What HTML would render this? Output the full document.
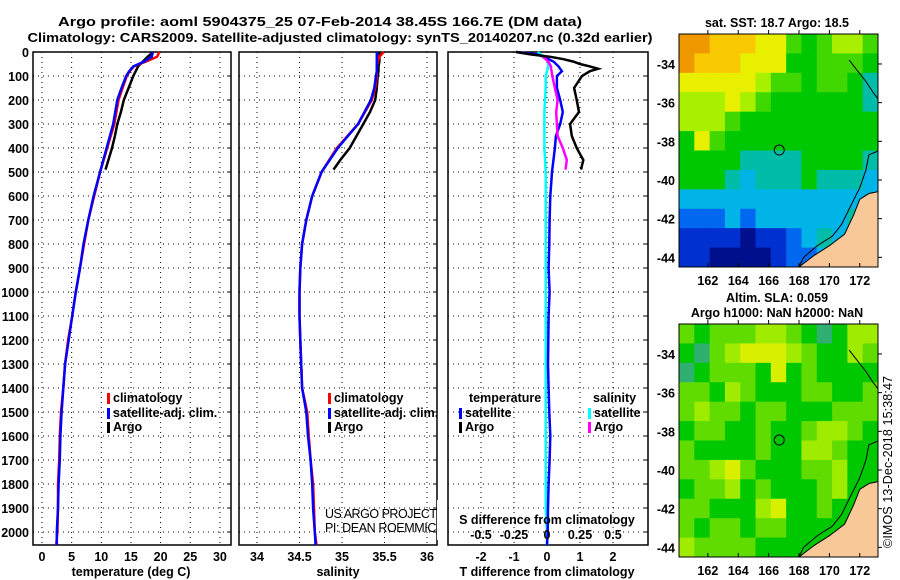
<!DOCTYPE html>
<html><head><meta charset="utf-8"><style>
html,body{margin:0;padding:0;background:#fff;}
svg{display:block;font-family:"Liberation Sans",sans-serif;}
.b{font-weight:bold;font-size:13px;}
.t{font-weight:bold;font-size:12.5px;}
</style></head><body>
<svg id="fig" width="900" height="580" viewBox="0 0 900 580" xmlns="http://www.w3.org/2000/svg">
<text x="320" y="26" class="b" text-anchor="middle" font-size="15" textLength="524" lengthAdjust="spacingAndGlyphs">Argo profile: aoml 5904375_25 07-Feb-2014 38.45S 166.7E (DM data)</text>
<text x="340" y="42" class="b" text-anchor="middle" font-size="15" textLength="625" lengthAdjust="spacingAndGlyphs">Climatology: CARS2009. Satellite-adjusted climatology: synTS_20140207.nc (0.32d earlier)</text>
<g id="g1"></g>
<g id="g2"></g>
<g id="g3"></g>
<g id="m1"></g>
<g id="m2"></g>
<text x="325" y="518" font-size="12.5" textLength="112">US ARGO PROJECT</text>
<text x="325" y="532" font-size="12.5" textLength="120">PI: DEAN ROEMMICH</text>
<rect x="437" y="500" width="10" height="40" fill="#fff"/>
<text transform="translate(892,548) rotate(-90)" font-size="12.5" textLength="172">©IMOS 13-Dec-2018 15:38:47</text>
</svg>
<script>
// ---- profile data ----
const depths=[0,20,40,60,80,100,150,200,300,400,500,600,700,800,900,1000,1100,1200,1300,1400,1500,1600,1700,1800,1900,2000,2054];
const tempClim=[19.8,19.4,17.5,15.5,14.8,14.3,13.6,12.9,12.2,11.0,9.8,8.8,7.8,7.1,6.4,5.7,5.1,4.4,3.9,3.6,3.2,3.0,2.9,2.7,2.7,2.6,2.4];
const tempSat=[18.7,18.5,17.2,15.4,14.7,14.2,13.4,12.7,12.0,10.9,9.8,8.7,7.8,7.0,6.4,5.7,5.1,4.5,3.9,3.6,3.3,3.1,3.0,2.8,2.7,2.5,2.5];
const salClim=[35.49,35.44,35.42,35.41,35.41,35.41,35.39,35.35,35.19,34.94,34.76,34.65,34.58,34.53,34.51,34.50,34.50,34.51,34.52,34.53,34.59,34.61,34.63,34.66,34.67,34.68,34.70];
const salSat=[35.41,35.41,35.41,35.41,35.41,35.40,35.38,35.34,35.19,34.95,34.76,34.65,34.58,34.53,34.51,34.50,34.50,34.51,34.52,34.53,34.58,34.60,34.63,34.65,34.66,34.68,34.69];
const argoDepths=[0,10,20,40,60,80,100,150,200,250,300,350,400,450,490];
const argoTemp=[18.5,18.3,17.8,17.0,16.2,15.8,15.4,14.6,13.8,13.3,12.7,12.3,11.8,11.2,10.7];
const argoSal=[35.44,35.44,35.44,35.44,35.43,35.43,35.42,35.41,35.39,35.33,35.25,35.17,35.09,34.98,34.90];
const diffDepths=[0,10,20,30,40,50,60,70,80,100,150,200,250,300,350,400,450,490];
const argoTdiff=[-0.94,-0.5,0.1,0.5,0.8,1.0,1.3,1.55,1.3,1.06,0.82,0.9,0.97,0.7,0.75,0.9,1.1,1.03];
const argoSdiffDepths=[20,30,40,50,60,70,80,100,150,200,250,300,350,400,450,490];
const argoSdiff=[-0.03,-0.01,0.01,0.02,0.03,0.03,0.035,0.04,0.06,0.08,0.07,0.075,0.08,0.12,0.15,0.14];
const satDepths=[0,10,20,40,60,80,100,150,200,250,300,350,400,500,600,700,800,900,1000,1100,1200,1300,1400,1500,1600,1700,1800,1900,2000,2054];
const satTdiff=[-0.94,-0.3,-0.1,0.2,0.35,0.45,0.3,0.3,0.4,0.48,0.4,0.27,0.24,0.15,0.1,0.08,0.07,0.05,0.08,0.05,0.04,0.03,0.05,0.07,0.1,0.08,0.05,0.03,0.02,0.0];
const satSdiff=[-0.07,-0.05,-0.01,0.01,0.01,0.0,-0.01,-0.01,-0.015,-0.02,-0.02,-0.02,-0.02,-0.01,-0.01,-0.01,-0.01,-0.01,-0.01,-0.01,-0.01,-0.01,-0.01,-0.01,-0.01,-0.01,-0.01,-0.01,0,0];
const depthTicks=[0,100,200,300,400,500,600,700,800,900,1000,1100,1200,1300,1400,1500,1600,1700,1800,1900,2000];
const tempTicks=[0,5,10,15,20,25,30];
const salTicks=[34,34.5,35,35.5,36];
const salTickLabels=["34","34.5","35","35.5","36"];
const tdiffTicks=[-2,-1,0,1,2];
const sdiffTicks=[-0.5,-0.25,0,0.25,0.5];
const sdiffTickLabels=["-0.5","-0.25","0","0.25","0.5"];
// ---- map data (colour class per 1-degree cell, rows north->south) ----
const sstGrid=[
[10,10,9,9,9,8,8,6,5,6,7,7,6],
[10,9,9,9,8,8,8,5,5,6,6,6,5],
[8,8,8,8,8,7,6,6,5,6,6,5,4],
[7,7,7,8,7,6,5,5,5,5,5,5,4],
[7,7,7,6,5,5,5,5,5,5,5,5,5],
[5,8,6,5,5,5,5,5,5,5,5,5,5],
[5,5,5,5,4,4,4,4,5,5,5,5,4],
[5,5,5,4,3,4,4,4,5,4,4,4,3],
[3,3,3,3,3,3,3,3,3,3,3,3,3],
[2,2,2,3,2,3,3,3,3,3,3,4,2],
[1,1,1,1,0,1,1,2,3,4,3,3,2],
[1,1,0,0,0,0,1,2,2,3,3,3,1]];
const slaGrid=[
[6,5,6,6,6,7,7,6,5,4,5,7,7],
[5,4,6,7,8,8,8,7,6,5,5,7,6],
[4,5,6,6,6,5,8,5,6,5,5,5,5],
[6,6,5,7,6,5,5,5,6,6,5,5,6],
[6,7,6,6,5,6,6,5,5,5,6,6,6],
[5,6,6,5,5,6,5,5,6,7,7,6,5],
[6,5,5,5,5,6,5,5,7,7,6,5,5],
[6,6,7,8,6,5,5,5,6,6,7,5,5],
[5,6,6,7,5,6,5,5,5,6,7,5,5],
[6,6,5,5,5,7,8,5,5,6,5,5,5],
[6,5,6,6,5,6,6,5,5,5,5,5,5],
[7,6,6,6,6,5,5,5,5,5,5,5,5]];
const lonTicks=[162,164,166,168,170,172];
const latTicks=[-34,-36,-38,-40,-42,-44];
const floatLon=166.7, floatLat=-38.45;
const landPoly=[[168,-44.5],[169,-43.9],[170,-43.4],[171,-42.8],[171.6,-41.8],[172,-41],[172.6,-40.7],[173.2,-40.6],[173.2,-44.5]];
const coast1=[[171.3,-33.8],[171.8,-34.3],[172.4,-34.9],[172.9,-35.5],[173.2,-35.8]];
const coast2=[[173.2,-38.5],[172.6,-38.7],[172.4,-39.5],[172,-40.4],[171.3,-41.5],[170.8,-42.3],[170.2,-42.9],[169.2,-43.4],[168.3,-44],[168,-44.5]];

const NS="http://www.w3.org/2000/svg";
function mk(parent,tag,attrs){const e=document.createElementNS(NS,tag);for(const k in attrs)e.setAttribute(k,attrs[k]);parent.appendChild(e);return e;}
const Y0=52, YB=545;
const yD=d=>Y0+d*0.24;

function panel(g,x0,x1,xs,ticks,labels,name){
  for(const t of ticks){const x=xs(t);
    const l=mk(g,'line',{x1:x,x2:x,y1:Y0,y2:YB,stroke:'#000','stroke-width':1,'stroke-dasharray':'1,4'});
    }
  for(const d of depthTicks){const y=yD(d);
    const l=mk(g,'line',{x1:x0,x2:x1,y1:y,y2:y,stroke:'#000','stroke-width':1,'stroke-dasharray':'1,4'});
    
    mk(g,'line',{x1:x1-4,x2:x1,y1:y,y2:y,stroke:'#000'});}
  const r=mk(g,'rect',{x:x0,y:Y0,width:x1-x0,height:YB-Y0,fill:'none',stroke:'#000','stroke-width':1.5});
  
  if(labels){ticks.forEach((t,i)=>{const tx=mk(g,'text',{x:xs(t),y:561,'text-anchor':'middle','class':'t'});tx.textContent=labels[i];
    });}
}
function line(g,xs,vals,ds,color,name){
  const pts=vals.map((v,i)=>xs(v).toFixed(1)+','+yD(ds[i]).toFixed(1)).join(' ');
  const p=mk(g,'polyline',{points:pts,fill:'none',stroke:color,'stroke-width':2.5,'stroke-linejoin':'miter'});
  }
function legend(g,x,y,color,label,name){
  mk(g,'rect',{x:x,y:y-9,width:3,height:11,fill:color});
  const t=mk(g,'text',{x:x+6,y:y,'class':'t'});t.textContent=label;
  }

// Panel 1
const g1=document.getElementById('g1');
const xT=v=>42+v*5.93;
panel(g1,33,231,xT,tempTicks,tempTicks.map(String),'temperature');
for(const d of depthTicks){const t=mk(g1,'text',{x:29,y:yD(d)+5,'text-anchor':'end','class':'t'});t.textContent=d;
  }
line(g1,xT,argoTemp,argoDepths,'#000','argo-temperature-line');
line(g1,xT,tempClim,depths,'#f00','climatology-temperature-line');
line(g1,xT,tempSat,depths,'#00f','satellite-temperature-line');
legend(g1,107,402,'#f00','climatology','legend-climatology');
legend(g1,107,417,'#00f','satellite-adj. clim.','legend-satellite');
legend(g1,107,431,'#000','Argo','legend-argo');
let t=mk(g1,'text',{x:131,y:576,'text-anchor':'middle','class':'t'});t.textContent='temperature (deg C)';


// Panel 2
const g2=document.getElementById('g2');
const xS=v=>342+(v-35)*85;
panel(g2,239,437,xS,salTicks,salTickLabels,'salinity');
line(g2,xS,argoSal,argoDepths,'#000','argo-salinity-line');
line(g2,xS,salClim,depths,'#f00','climatology-salinity-line');
line(g2,xS,salSat,depths,'#00f','satellite-salinity-line');
legend(g2,328,402,'#f00','climatology','legend-climatology-sal');
legend(g2,328,417,'#00f','satellite-adj. clim.','legend-satellite-sal');
legend(g2,328,431,'#000','Argo','legend-argo-sal');
t=mk(g2,'text',{x:338,y:576,'text-anchor':'middle','class':'t'});t.textContent='salinity';


// Panel 3
const g3=document.getElementById('g3');
const xTd=v=>547+v*33;
const xSd=v=>547+v*132;
panel(g3,448,648,xTd,tdiffTicks,tdiffTicks.map(String),'difference');
line(g3,xSd,satSdiff,satDepths,'#0ff','satellite-salinity-diff-line');
line(g3,xTd,satTdiff,satDepths,'#00f','satellite-temperature-diff-line');
line(g3,xSd,argoSdiff,argoSdiffDepths,'#f0f','argo-salinity-diff-line');
line(g3,xTd,argoTdiff,diffDepths,'#000','argo-temperature-diff-line');
t=mk(g3,'text',{x:469,y:402,'class':'t'});t.textContent='temperature';

t=mk(g3,'text',{x:593,y:402,'class':'t'});t.textContent='salinity';

legend(g3,459,417,'#00f','satellite','legend-t-satellite');
legend(g3,459,431,'#000','Argo','legend-t-argo');
legend(g3,588,417,'#0ff','satellite','legend-s-satellite');
legend(g3,588,431,'#f0f','Argo','legend-s-argo');
t=mk(g3,'text',{x:547,y:524,'text-anchor':'middle','class':'t'});t.textContent='S difference from climatology';

sdiffTicks.forEach((v,i)=>{const tx=mk(g3,'text',{x:xSd(v),y:539,'text-anchor':'middle','class':'t'});tx.textContent=sdiffTickLabels[i];
  });
t=mk(g3,'text',{x:547,y:576,'text-anchor':'middle','class':'t'});t.textContent='T difference from climatology';


// Maps
const sstColors=['#00108c','#0030d0','#0068f0','#00b4e8','#00bca8','#00c800','#40d800','#a8f000','#e8f000','#f8c800','#f09800'];
const slaColors=['#00108c','#0030d0','#0068f0','#00b4e8','#30b070','#00c800','#60dc00','#a0ec00','#d8f000'];
function drawMap(g,top,grid,colors,name){
  const L=679,R=878,T=top,B=top+233;
  const lonX=v=>L+(v-160.1)*(R-L)/13.1;
  const latY=v=>T+(-32.45-v)*(B-T)/12.05;
  const cw=(R-L)/13, ch=(B-T)/12;
  grid.forEach((row,r)=>row.forEach((c,k)=>{
    const cell=mk(g,'rect',{x:L+k*cw,y:T+r*ch,width:cw+0.5,height:ch+0.5,fill:colors[c]});
    }));
  const land=mk(g,'polygon',{points:landPoly.map(p=>lonX(p[0])+','+latY(p[1])).join(' '),fill:'#f8c898',stroke:'#000','stroke-width':1});
  
  for(const c of [coast1,coast2]){mk(g,'polyline',{points:c.map(p=>lonX(p[0])+','+latY(p[1])).join(' '),fill:'none',stroke:'#000','stroke-width':1});}
  const circ=mk(g,'circle',{cx:lonX(floatLon),cy:latY(floatLat),r:5,fill:'none',stroke:'#000','stroke-width':1});
  
  const fr=mk(g,'rect',{x:L,y:T,width:R-L,height:B-T,fill:'none',stroke:'#000','stroke-width':1});
  
  for(const v of lonTicks){const x=lonX(v);mk(g,'line',{x1:x,x2:x,y1:T-4,y2:T,stroke:'#000'});mk(g,'line',{x1:x,x2:x,y1:B,y2:B-4,stroke:'#000'});
    const tx=mk(g,'text',{x:x,y:B+18,'text-anchor':'middle','class':'t'});tx.textContent=v;
    }
  for(const v of latTicks){const y=latY(v);mk(g,'line',{x1:R,x2:R+4,y1:y,y2:y,stroke:'#000'});
    const tx=mk(g,'text',{x:675,y:y+5,'text-anchor':'end','class':'t'});tx.textContent=v;
    }
}
const m1=document.getElementById('m1'), m2=document.getElementById('m2');
drawMap(m1,34,sstGrid,sstColors,'sst-map');
drawMap(m2,324,slaGrid,slaColors,'sla-map');
t=mk(m1,'text',{x:777,y:27,'text-anchor':'middle','class':'t'});t.textContent='sat. SST: 18.7 Argo: 18.5';

t=mk(m2,'text',{x:777,y:302,'text-anchor':'middle','class':'t'});t.textContent='Altim. SLA: 0.059';

t=mk(m2,'text',{x:777,y:317,'text-anchor':'middle','class':'t'});t.textContent='Argo h1000: NaN h2000: NaN';

</script>
</body></html>
